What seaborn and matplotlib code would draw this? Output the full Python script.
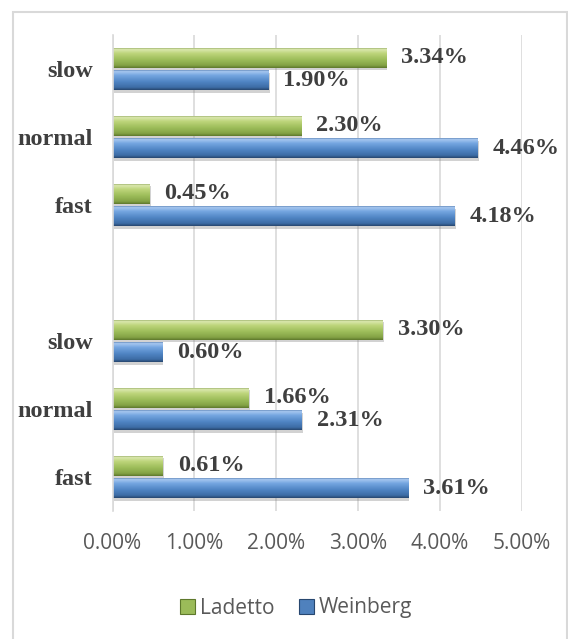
import numpy as np
import pandas as pd
import matplotlib
matplotlib.use("Agg")
import matplotlib.pyplot as plt
import matplotlib.patheffects as pe
import seaborn as sns
from matplotlib.colors import LinearSegmentedColormap
from matplotlib.patches import Rectangle, Patch

# Category slots (one empty slot separates the two groups)
slots = ["slow_a", "normal_a", "fast_a", "gap", "slow_b", "normal_b", "fast_b"]
slot_labels = ["slow", "normal", "fast", "", "slow", "normal", "fast"]
data_slots = ["slow_a", "normal_a", "fast_a", "slow_b", "normal_b", "fast_b"]
series = ["Ladetto", "Weinberg"]
ladetto = [3.34, 2.30, 0.45, 3.30, 1.66, 0.61]
weinberg = [1.90, 4.46, 4.18, 0.60, 2.31, 3.61]
x_ticks = [0, 1, 2, 3, 4, 5]

df = pd.DataFrame({
    "slot": data_slots * 2,
    "series": [series[0]] * len(data_slots) + [series[1]] * len(data_slots),
    "value": ladetto + weinberg,
})

sns.set_style("white")
plt.rcParams["font.family"] = ["DejaVu Sans"]

mid_colors = {"Ladetto": "#9bbb59", "Weinberg": "#4f81bd"}
grad_colors = {
    "Ladetto": ["#6f8a3a", "#dbe8b0", "#bdd57a", "#9dbd5a", "#83a245", "#5e782c"],
    "Weinberg": ["#2f5b93", "#a8c8f0", "#74a5e0", "#5085c4", "#3d6ca5", "#27476f"],
}
grad_pos = [0.0, 0.1, 0.3, 0.6, 0.88, 1.0]

W, H = 568, 639
fig = plt.figure(figsize=(W / 100, H / 100), dpi=100)
ax = fig.add_axes([112.5 / W, 1 - 511 / H, (521.5 - 112.5) / W, (511 - 35) / H])

sns.barplot(
    data=df, x="value", y="slot", hue="series", order=slots, hue_order=series,
    palette=mid_colors, width=0.66, gap=0.1, orient="h", ax=ax,
    legend=False, errorbar=None, linewidth=0,
)

ax.set_xlim(0, 5)
ylim = ax.get_ylim()

shadow = [pe.SimplePatchShadow(offset=(1.2, -1.8), shadow_rgbFace="#808080", alpha=0.35),
          pe.Normal()]

# Shaded fill for each bar
for cont, name in zip(ax.containers, series):
    cmap = LinearSegmentedColormap.from_list(name, list(zip(grad_pos, grad_colors[name])))
    grad = np.linspace(0, 1, 64).reshape(-1, 1)
    for bar in cont:
        x0, y0 = bar.get_x(), bar.get_y()
        w, h = bar.get_width(), bar.get_height()
        if w <= 0:
            continue
        bar.set_path_effects(shadow)
        im = ax.imshow(grad, cmap=cmap, aspect="auto", origin="upper",
                       extent=(x0, x0 + w, y0 + h, y0), zorder=bar.get_zorder() + 0.1,
                       interpolation="bilinear")
        im.set_clip_path(bar)
    ax.bar_label(cont, labels=[f"{v:.2f}%" for v in cont.datavalues], padding=11,
                 fontsize=17.5, fontweight="bold", family="Liberation Serif",
                 color="#3f3f3f")

ax.set_xlim(0, 5)
ax.set_ylim(ylim)

ax.set_xticks(x_ticks)
ax.set_xticklabels([f"{t:.2f}%" for t in x_ticks], family="Open Sans",
                   fontsize=15, color="#595959")
ax.set_yticks(range(len(slots)))
ax.set_yticklabels(slot_labels, family="Liberation Serif", fontweight="bold",
                   fontsize=17.5, color="#3f3f3f")
ax.tick_params(axis="x", length=0, pad=16)
ax.tick_params(axis="y", length=0, pad=14)
ax.set_xlabel("")
ax.set_ylabel("")
ax.grid(axis="x", color="#d9d9d9", lw=1.2)
ax.set_axisbelow(True)
for side in ["top", "right", "bottom"]:
    ax.spines[side].set_visible(False)
ax.spines["left"].set_color("#d9d9d9")
ax.spines["left"].set_linewidth(1.2)

handles = [Patch(facecolor=mid_colors[s], edgecolor=grad_colors[s][-1], lw=0.8) for s in series]
leg = fig.legend(handles, series, loc="center left", bbox_to_anchor=(180 / W, 1 - 608 / H),
                 ncol=2, frameon=False, borderpad=0, borderaxespad=0,
                 handlelength=0.72, handleheight=0.72,
                 handletextpad=0.25, columnspacing=1.15,
                 prop={"family": "Open Sans", "size": 15})
for t in leg.get_texts():
    t.set_color("#595959")

fig.patches.append(Rectangle((13 / W, -0.05), (567 - 13) / W, 1.05 - 11.5 / H,
                             transform=fig.transFigure, fill=False,
                             edgecolor="#d9d9d9", lw=1.5))

fig.savefig("out.png", dpi=100)
